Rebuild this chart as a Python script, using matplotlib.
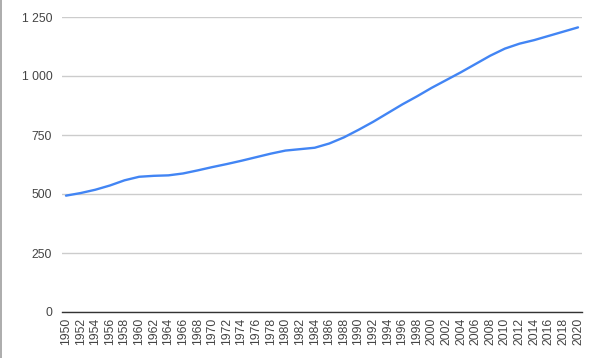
import matplotlib
matplotlib.use("Agg")
import matplotlib.pyplot as plt
from matplotlib.lines import Line2D
from matplotlib.ticker import FuncFormatter

# values (every second year)
years = list(range(1950, 2021, 2))
values = [493, 504, 518, 536, 558, 573, 577, 579, 587, 600,
          614, 627, 641, 656, 671, 684, 690, 696, 714, 740,
          772, 806, 843, 880, 914, 950, 983, 1016, 1051, 1086,
          1116, 1137, 1152, 1170, 1188, 1206]
y_ticks = [0, 250, 500, 750, 1000, 1250]

plt.rcParams['font.family'] = ['Liberation Sans', 'DejaVu Sans']

fig = plt.figure(figsize=(5.94, 3.58), dpi=100)
ax = fig.add_axes([62 / 594, 1 - 312 / 358, 520 / 594, 295 / 358])

ax.plot(years, values, color='#4285F4', linewidth=1.7, solid_capstyle='round', zorder=3)

ax.set_xlim(1950 - 4 / 7.314, 2020 + 4 / 7.314)
ax.set_ylim(0, 1250)
ax.set_xticks(years)
ax.set_yticks(y_ticks)
ax.yaxis.set_major_formatter(FuncFormatter(lambda v, p: "{:,.0f}".format(v).replace(",", " ")))

ax.tick_params(axis='x', length=0, pad=4, labelsize=8.8, labelcolor='#444444', labelrotation=90)
ax.tick_params(axis='y', length=0, pad=7, labelsize=8.8, labelcolor='#444444')

ax.grid(axis='y', color='#cccccc', linewidth=1)
ax.set_axisbelow(True)
for s in ['top', 'right', 'left']:
    ax.spines[s].set_visible(False)
ax.spines['bottom'].set_color('#333333')
ax.spines['bottom'].set_linewidth(1)
ax.spines['bottom'].set_zorder(2)

# thin grey border at the left edge of the picture
fig.add_artist(Line2D([0.5 / 594, 0.5 / 594], [0, 1], transform=fig.transFigure,
                      color='#9e9e9e', linewidth=1.2))

fig.savefig("out.png", dpi=100)
